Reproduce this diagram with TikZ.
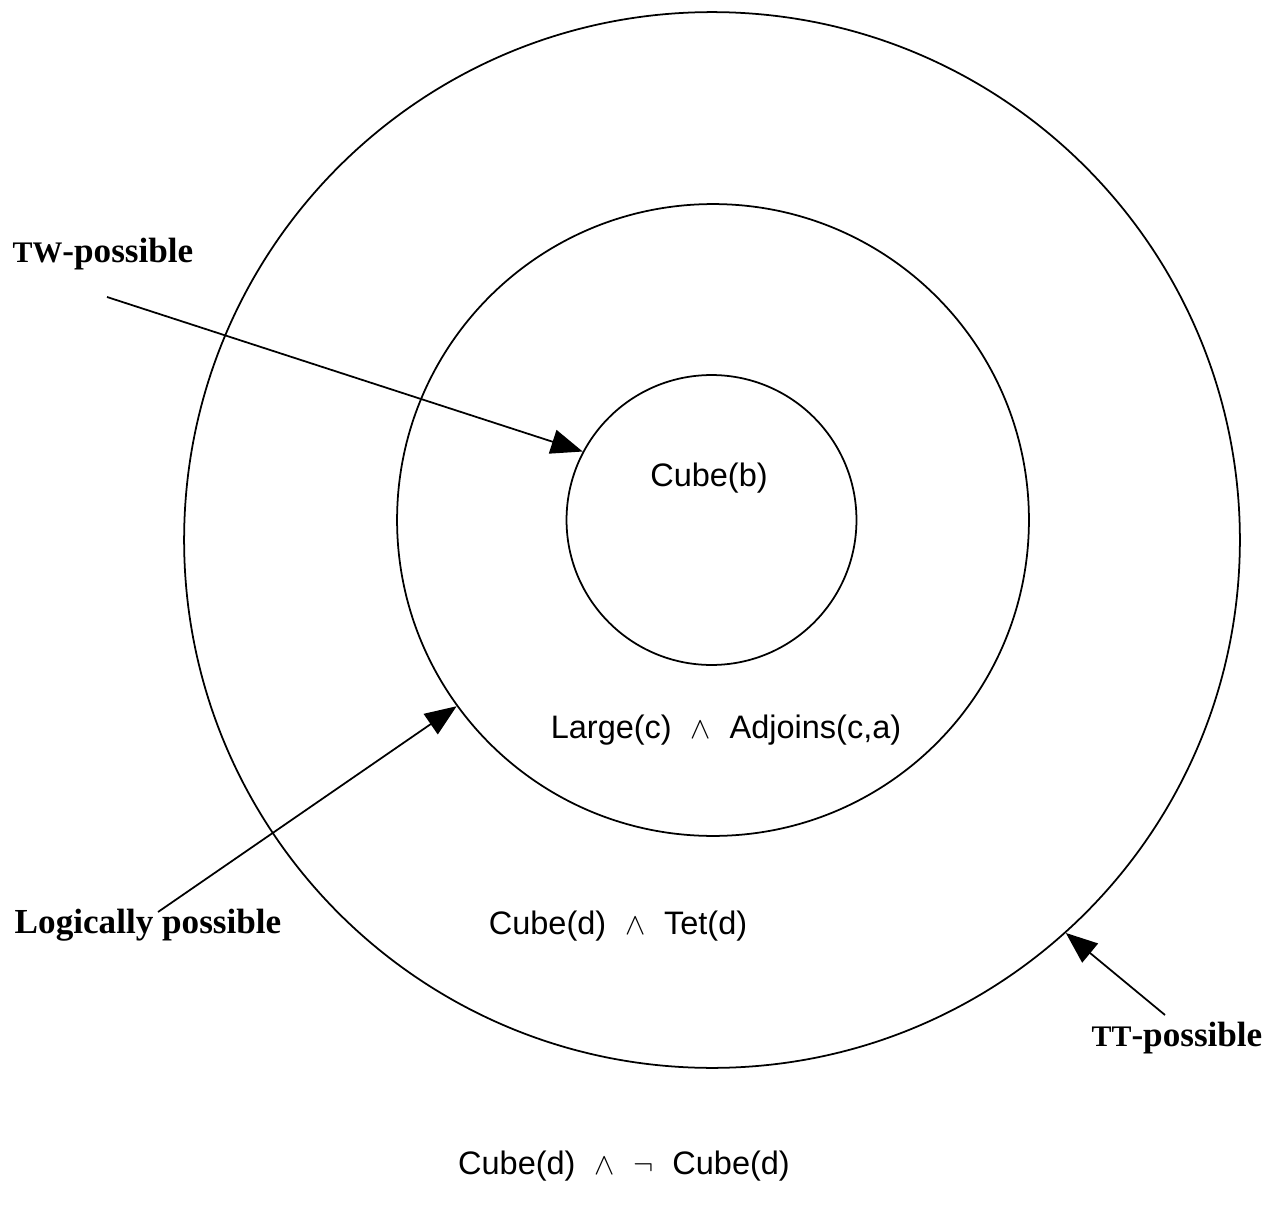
\documentclass[tikz,border=0pt]{standalone}
\usepackage{fontspec}
\setmainfont{Liberation Serif}
\setsansfont{Liberation Sans}
\usetikzlibrary{arrows.meta, positioning}

\tikzset{
  ring/.style={draw, circle, line width=1pt, inner sep=0pt},
  formula/.style={font=\sffamily\fontsize{18.5}{20}\selectfont},
  tag/.style={font=\bfseries\fontsize{20}{22}\selectfont},
  pointer/.style={line width=1pt, -{Triangle[length=18pt,width=14pt]}}
}
\newcommand{\smallcap}[1]{{\fontsize{17}{18}\selectfont #1}}
\newcommand{\gap}{\hspace{0.3em}}

\begin{document}
\begin{tikzpicture}[x=0.02cm, y=-0.02cm]
      \useasboundingbox (0,0) rectangle (1274,1213);

      % The three nested regions
      \node[ring, minimum size=21.12cm] (outer) at (712,540) {};
      \node[ring, minimum size=12.64cm] (mid) at (713,520) {};
      \node[ring, minimum size=5.8cm] (inner) at (711.5,520) {};

      % Sentences in each region
      \node[formula] (cubeb) at (709,478) {Cube(b)};
      \node[formula] (large) at (726,730) {Large(c)\gap{} $\wedge$ \gap{}Adjoins(c,a)};
      \node[formula] (tet) at (618,926) {Cube(d)\gap{} $\wedge$ \gap{}Tet(d)};
      \node[formula] (contra) at (624,1166) {Cube(d)\gap{} $\wedge$ \gap{}$\neg$ \gap{}Cube(d)};

      % Labels
      \node[tag] (tw) at (103,254) {\smallcap{TW}-possible};
      \node[tag] (logic) at (148,925) {Logically possible};
      \node[tag] (tt) at (1177,1038) {\smallcap{TT}-possible};

      % Arrow tails
      \coordinate (twstart) at (107,297);
      \coordinate (logicstart) at (158,912);
      \coordinate (ttstart) at (1165,1015);

      % Arrows to the boundaries
      \draw[pointer] (twstart) -- (inner.152);
      \draw[pointer] (logicstart) -- (mid.216);
      \draw[pointer] (ttstart) -- (outer.312);
    \end{tikzpicture}
\end{document}
